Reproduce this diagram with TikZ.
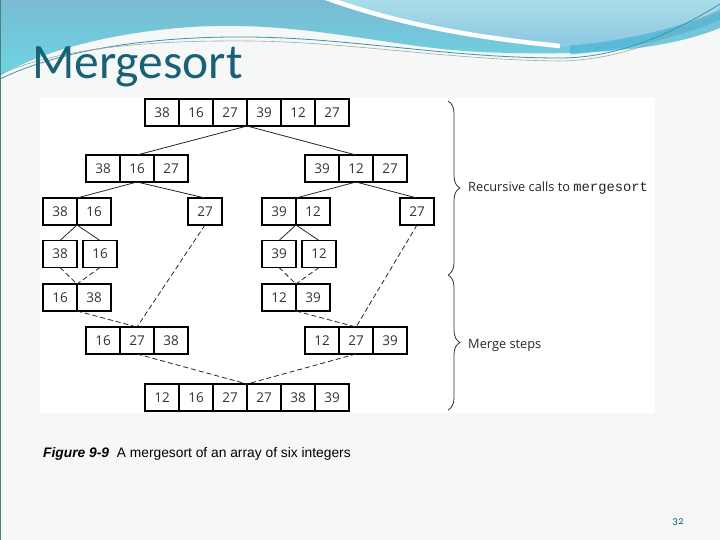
\documentclass[tikz,border=0pt]{standalone}
\usepackage{fontspec}
\setmainfont{Open Sans}
\newfontfamily\titlefont{Carlito}
\newfontfamily\numfont[Numbers=OldStyle]{Carlito}
\newfontfamily\capfont{Liberation Sans}
\newfontfamily\codefont{Liberation Mono}
\usetikzlibrary{decorations.pathreplacing}
\definecolor{titleteal}{RGB}{24,98,118}
\definecolor{slidebg}{RGB}{246,247,247}
\definecolor{bannertop}{RGB}{122,186,210}
\definecolor{bannerbot}{RGB}{108,214,228}
\definecolor{lighttop}{RGB}{170,221,232}
\definecolor{lightbot}{RGB}{140,200,226}
\definecolor{darkband}{RGB}{78,180,214}
\definecolor{thinline}{RGB}{60,150,165}
\begin{document}
\begin{tikzpicture}[x=1pt,y=-1pt,
  cell/.style={draw=black, line width=1.5pt, minimum width=34pt, minimum height=27pt,
    inner sep=0pt, outer sep=0pt, font=\fontsize{13.5}{13.5}\selectfont, text=black!80},
  link/.style={line width=0.8pt, draw=black!85},
  mlink/.style={link, dash pattern=on 5pt off 3pt},
  bracestyle/.style={decorate, decoration={brace, amplitude=12pt}, line width=0.8pt, draw=black!80},
  lab/.style={anchor=west, inner sep=0pt, font=\fontsize{12.8}{12.8}\selectfont, text=black!85}]
% slide
\fill[slidebg] (0,0) rectangle (720,540);
\useasboundingbox (0,0) rectangle (720,540);
% banner
\shade[top color=bannertop, bottom color=bannerbot]
  (0,0) -- (720,0) -- (720,28) .. controls (660,52) and (580,56) .. (480,52)
  .. controls (400,48) and (330,28) .. (240,26) .. controls (150,24) and (50,45) .. (0,76) -- cycle;
\shade[top color=lighttop, bottom color=lightbot]
  (330,0) -- (720,0) -- (720,12) .. controls (680,30) and (620,45) .. (560,47)
  .. controls (500,45) and (420,30) .. (330,0) -- cycle;
\draw[white, line width=4.5pt] (326,-2) .. controls (400,25) and (480,38) .. (560,46);
\draw[darkband, line width=9pt, opacity=0.7] (570,50) .. controls (640,44) and (690,28) .. (722,14);
\draw[thinline, line width=0.8pt] (0,79) .. controls (60,50) and (150,36) .. (250,37)
  .. controls (350,38) and (450,58) .. (560,58) .. controls (630,58) and (690,22) .. (722,3);
\draw[gray!70, line width=0.6pt] (0,74) .. controls (60,48) and (150,40) .. (250,41)
  .. controls (350,42) and (450,60) .. (560,61) .. controls (630,60) and (690,28) .. (722,8);
% figure background
\fill[white] (40,97) rectangle (655,413);
% title
\node[anchor=base west, inner sep=0pt, font=\titlefont\fontsize{49.5}{49.5}\selectfont, text=titleteal] (title) at (32,79) {Mergesort};
% row 1
\foreach \v [count=\i] in {38,16,27,39,12,27} \node[cell] (a\i) at ({128+34*\i},112.5) {\v};
% row 2
\foreach \v [count=\i] in {38,16,27} \node[cell] (b\i) at ({69+34*\i},168.5) {\v};
\foreach \v [count=\i] in {39,12,27} \node[cell] (c\i) at ({288+34*\i},168.5) {\v};
% row 3
\foreach \v [count=\i] in {38,16} \node[cell] (d\i) at ({26+34*\i},211.5) {\v};
\node[cell] (e) at (205,211.5) {27};
\foreach \v [count=\i] in {39,12} \node[cell] (f\i) at ({245+34*\i},211.5) {\v};
\node[cell] (g) at (417,211.5) {27};
% row 4
\node[cell] (h1) at (60,254) {38};
\node[cell] (h2) at (100,254) {16};
\node[cell] (k1) at (279,254) {39};
\node[cell] (k2) at (319,254) {12};
% row 5
\foreach \v [count=\i] in {16,38} \node[cell] (m\i) at ({26+34*\i},297.5) {\v};
\foreach \v [count=\i] in {12,39} \node[cell] (n\i) at ({245+34*\i},297.5) {\v};
% row 6
\foreach \v [count=\i] in {16,27,38} \node[cell] (p\i) at ({69+34*\i},340.5) {\v};
\foreach \v [count=\i] in {12,27,39} \node[cell] (q\i) at ({288+34*\i},340.5) {\v};
% row 7
\foreach \v [count=\i] in {12,16,27,27,38,39} \node[cell] (r\i) at ({128+34*\i},397.5) {\v};
% split connectors
\draw[link] (a3.south east) -- (b2.north);
\draw[link] (a3.south east) -- (c2.north);
\draw[link] (b2.south) -- (d1.north east);
\draw[link] (b2.south) -- (e.north);
\draw[link] (c2.south) -- (f1.north east);
\draw[link] (c2.south) -- (g.north);
\draw[link] (d1.south east) -- (h1.north);
\draw[link] (d1.south east) -- (h2.north);
\draw[link] (f1.south east) -- (k1.north);
\draw[link] (f1.south east) -- (k2.north);
% merge connectors
\draw[mlink] (h1.south) -- (m1.north east);
\draw[mlink] (h2.south) -- (m1.north east);
\draw[mlink] (k1.south) -- (n1.north east);
\draw[mlink] (k2.south) -- (n1.north east);
\draw[mlink] (m1.south east) -- (p2.north);
\draw[mlink] (e.south) -- (p2.north);
\draw[mlink] (n1.south east) -- (q2.north);
\draw[mlink] (g.south) -- (q2.north);
\draw[mlink] (p2.south) -- (r3.north east);
\draw[mlink] (q2.south) -- (r3.north east);
% braces
\coordinate (br1) at (448,101);
\coordinate (br2) at (448,275);
\coordinate (br3) at (448,410);
\draw[bracestyle] (br1) -- (br2);
\draw[bracestyle] (br2) -- (br3);
\node[lab] (lab1) at (468,188) {Recursive calls to {\codefont\fontsize{13.8}{13.8}\selectfont mergesort}};
\node[lab] (lab2) at (468,345) {Merge steps};
% caption
\node[anchor=base west, inner sep=0pt, font=\capfont\fontsize{13.8}{13.8}\selectfont] (cap) at (43,457)
  {\textbf{\textit{Figure 9-9}}\ \ A mergesort of an array of six integers};
% page number
\node[font=\numfont\fontsize{11}{11}\selectfont, text=titleteal] (pg) at (678,522) {32};
% frame
\draw[gray!60!teal, line width=1pt] (0,0) rectangle (720,540);
\end{tikzpicture}
\end{document}
